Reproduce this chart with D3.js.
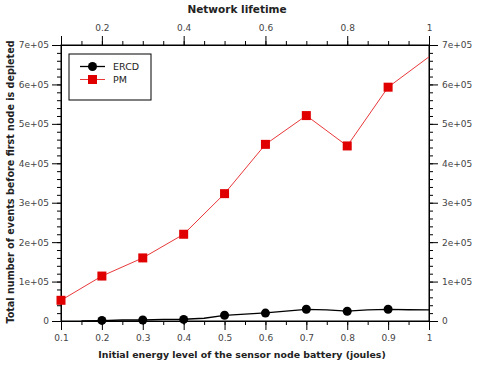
<!DOCTYPE html>
<html><head><meta charset="utf-8">
<script src="https://cdn.jsdelivr.net/npm/d3@7"></script>
<style>
body{margin:0;background:#fff;}
text{font-family:"DejaVu Sans",Verdana,sans-serif;}
</style></head>
<body>
<svg id="c" width="477" height="366"></svg>
<script>
// ---- data ----
const markerX = [0.1,0.2,0.3,0.4,0.5,0.6,0.7,0.8,0.9];
const pmMarkers = [52500,114000,160000,220000,323000,448000,521000,444000,593000];
const pmLineX = [0.1,0.2,0.3,0.4,0.5,0.6,0.7,0.8,0.9,1.0];
const pmLineY = [52500,114000,160000,220000,323000,448000,521000,444000,593000,670000];
const ercdMarkers = [1500,2500,4000,14500,20000,29700,24600,29700];
const ercdMarkerX = [0.2,0.3,0.4,0.5,0.6,0.7,0.8,0.9];
const ercdLineX = [0.15,0.2,0.25,0.3,0.35,0.4,0.45,0.5,0.6,0.7,0.75,0.8,0.85,0.9,0.95,1.0];
const ercdLineY = [0,1000,2500,2500,4000,4500,7000,14500,20500,29700,28000,25000,28000,29700,28500,28000];
const xTickLabelsBottom = [0.1,0.2,0.3,0.4,0.5,0.6,0.7,0.8,0.9,1];
const xTickLabelsTop = [0.2,0.4,0.6,0.8,1];
const yTicks = [0,100000,200000,300000,400000,500000,600000,700000];
const yTickLabels = ["0","1e+05","2e+05","3e+05","4e+05","5e+05","6e+05","7e+05"];
const seriesNames = ["ERCD","PM"];

const svg = d3.select("#c");
const L=61, R=429, T=45, B=321;
const x = d3.scaleLinear().domain([0.1,1]).range([L,R]);
const y = d3.scaleLinear().domain([0,700000]).range([B,T]);
const tickCol = "#000", labCol = "#444";

// frame
svg.append("rect").attr("x",L).attr("y",T).attr("width",R-L).attr("height",B-T)
  .attr("fill","none").attr("stroke","#000").attr("stroke-width",1);

function styleAxis(g){ g.select(".domain").attr("stroke","#000");
  g.selectAll(".tick line").attr("stroke",tickCol);
  g.selectAll("text").attr("fill",labCol).style("font-size","9px").style("font-family","\"DejaVu Sans\",Verdana,sans-serif"); }

const minorX = d3.range(0.1,1.0001,0.05).map(v=>+v.toFixed(2));
const minorY = d3.range(0,700001,20000);

// bottom
svg.append("g").attr("transform",`translate(0,${B})`)
  .call(d3.axisBottom(x).tickValues(minorX).tickSize(4).tickFormat(""))
  .call(g=>g.select(".domain").remove()).call(styleAxis);
svg.append("g").attr("transform",`translate(0,${B})`)
  .call(d3.axisBottom(x).tickValues(xTickLabelsBottom).tickSize(9).tickPadding(5).tickFormat(d=>d3.format("")(d)))
  .call(styleAxis);
// top
svg.append("g").attr("transform",`translate(0,${T})`)
  .call(d3.axisTop(x).tickValues(minorX).tickSize(4).tickFormat(""))
  .call(g=>g.select(".domain").remove()).call(styleAxis);
svg.append("g").attr("transform",`translate(0,${T})`)
  .call(d3.axisTop(x).tickValues(xTickLabelsTop).tickSize(9).tickPadding(5).tickFormat(d=>d3.format("")(d)))
  .call(styleAxis);
// left
svg.append("g").attr("transform",`translate(${L},0)`)
  .call(d3.axisLeft(y).tickValues(minorY).tickSize(4).tickFormat(""))
  .call(g=>g.select(".domain").remove()).call(styleAxis);
svg.append("g").attr("transform",`translate(${L},0)`)
  .call(d3.axisLeft(y).tickValues(yTicks).tickSize(9).tickPadding(3).tickFormat((d,i)=>yTickLabels[i]))
  .call(styleAxis);
// right
svg.append("g").attr("transform",`translate(${R},0)`)
  .call(d3.axisRight(y).tickValues(minorY).tickSize(4).tickFormat(""))
  .call(g=>g.select(".domain").remove()).call(styleAxis);
svg.append("g").attr("transform",`translate(${R},0)`)
  .call(d3.axisRight(y).tickValues(yTicks).tickSize(9).tickPadding(4).tickFormat((d,i)=>yTickLabels[i]))
  .call(styleAxis);

// titles
svg.append("text").attr("x",237).attr("y",13).attr("text-anchor","middle")
  .style("font-size","10.5px").style("font-weight","bold").attr("fill","#222").text("Network lifetime");
svg.append("text").attr("x",242).attr("y",358).attr("text-anchor","middle")
  .style("font-size","9.4px").style("font-weight","bold").attr("fill","#222").text("Initial energy level of the sensor node battery (joules)");
svg.append("text").attr("transform","translate(14,182) rotate(-90)").attr("text-anchor","middle")
  .style("font-size","9.6px").style("font-weight","bold").attr("fill","#222").text("Total number of events before first node is depleted");

// lines
const line = d3.line().x(d=>x(d[0])).y(d=>y(d[1]));
svg.append("path").datum(pmLineX.map((v,i)=>[v,pmLineY[i]]))
  .attr("d",line).attr("fill","none").attr("stroke","#e8383a").attr("stroke-width",1);
svg.append("path").datum(ercdLineX.map((v,i)=>[v,ercdLineY[i]]))
  .attr("d",line).attr("fill","none").attr("stroke","#000").attr("stroke-width",1.3);

// markers
svg.selectAll("rect.pm").data(markerX.map((v,i)=>[v,pmMarkers[i]])).join("rect")
  .attr("x",d=>x(d[0])-4.5).attr("y",d=>y(d[1])-4.5).attr("width",9).attr("height",9).attr("fill","#e00000");
svg.selectAll("circle.ercd").data(ercdMarkerX.map((v,i)=>[v,ercdMarkers[i]])).join("circle")
  .attr("cx",d=>x(d[0])).attr("cy",d=>y(d[1])).attr("r",4.5).attr("fill","#000");

// legend
const lg = svg.append("g");
lg.append("rect").attr("x",69).attr("y",54).attr("width",82).attr("height",46)
  .attr("fill","#fff").attr("stroke","#000").attr("stroke-width",1);
const lgY=[66.5,79.5], lgCol=["#000","#e00000"], lgLine=["#000","#e8383a"];
seriesNames.forEach((n,i)=>{
  lg.append("line").attr("x1",80).attr("x2",105).attr("y1",lgY[i]).attr("y2",lgY[i])
    .attr("stroke",lgLine[i]).attr("stroke-width",i?1:1.3);
  if(i===0) lg.append("circle").attr("cx",92.5).attr("cy",lgY[i]).attr("r",4.5).attr("fill",lgCol[i]);
  else lg.append("rect").attr("x",88).attr("y",lgY[i]-4.5).attr("width",9).attr("height",9).attr("fill",lgCol[i]);
  lg.append("text").attr("x",113).attr("y",lgY[i]+3.5).style("font-size","9.5px").attr("fill","#222").text(n);
});
</script>
</body></html>
